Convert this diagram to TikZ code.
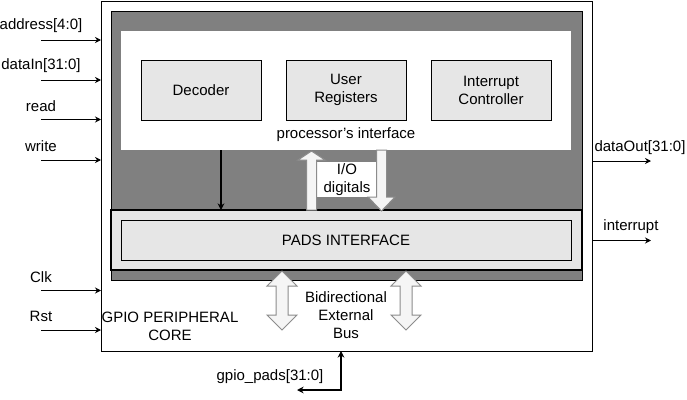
\documentclass[tikz,border=0pt]{standalone}
\usepackage{fontspec}
\setmainfont{Liberation Sans}
\usetikzlibrary{arrows.meta}
\definecolor{darkbg}{HTML}{808080}
\definecolor{boxfill}{HTML}{E6E6E6}
\definecolor{hollowfill}{HTML}{F5F5F5}
\definecolor{hollowline}{HTML}{8C8C8C}
\begin{document}
\begin{tikzpicture}[x=0.75pt,y=-0.75pt,
  every node/.style={font=\fontsize{11.25}{13.5}\selectfont, inner sep=0pt, outer sep=0pt},
  blk/.style={draw=black, line width=0.75pt, rectangle},
  sub/.style={blk, fill=boxfill, minimum width=90pt, minimum height=45pt, align=center},
  sig/.style={-{Stealth[length=4.5pt,width=4.5pt]}, line width=0.75pt},
  hollow/.style={draw=hollowline, fill=hollowfill, line width=0.75pt, line join=miter},
  lbl/.style={align=center}
]
\useasboundingbox (0,0) rectangle (687,400);
% outer core
\node[blk, fill=white, minimum width=368.25pt, minimum height=262.5pt] (core) at (346.5,176) {};
% dark background
\node[blk, fill=darkbg, minimum width=353.25pt, minimum height=201.75pt] (dark) at (346.5,145.5) {};
% processor's interface
\node[draw=none, fill=white, minimum width=337.5pt, minimum height=89.25pt] (proc) at (346,90.5) {};
\node[sub] (dec) at (201,90) {Decoder};
\node[sub] (ureg) at (346,90) {User\\Registers};
\node[sub] (intc) at (491,90) {Interrupt\\Controller};
\node[lbl] (proclbl) at (346,134.5) {processor's interface};
% pads interface
\node[draw=black, line width=1.5pt, fill=boxfill, minimum width=353.25pt, minimum height=45pt] (padsout) at (346.5,240) {};
\node[blk, fill=boxfill, minimum width=337.5pt, minimum height=30pt] (pads) at (346,240) {PADS INTERFACE};
% decoder to pads arrow
\coordinate (decdown) at (221,150);
\draw[-{Stealth[length=5pt,width=5pt]}, line width=1.1pt] (decdown) -- (decdown |- padsout.north);
% I/O digitals
\node[fill=white, minimum width=45pt, minimum height=26.25pt, align=center] (io) at (347,179.5) {I/O\\digitals};
% hollow up arrow
\draw[hollow] (311.5,151) -- (325,160) -- (316.5,160) -- (316.5,210) -- (306.5,210) -- (306.5,160) -- (298,160) -- cycle;
% hollow down arrow
\draw[hollow] (381.5,211) -- (395,197) -- (386.5,197) -- (386.5,150) -- (376.5,150) -- (376.5,197) -- (368,197) -- cycle;
% bidirectional arrows
\foreach \cx in {282,406}{
  \draw[hollow] (\cx,271) -- (\cx+15,286) -- (\cx+6,286) -- (\cx+6,315) -- (\cx+15,315) -- (\cx,330)
     -- (\cx-15,315) -- (\cx-6,315) -- (\cx-6,286) -- (\cx-15,286) -- cycle;
}
\node[lbl] (bus) at (346,315.5) {Bidirectional\\External\\Bus};
\node[lbl] (gpiolbl) at (170,326) {GPIO PERIPHERAL\\CORE};
% inputs
\foreach \nm/\txt/\ly/\ay in {a/address[4:0]/25.5/40, d/dataIn[31:0]/66/80, r/read/106.5/119.5, w/write/146.5/160, c/Clk/277/290.5, s/Rst/316.5/330}{
  \node (in\nm lbl) at (41,\ly) {\txt};
  \coordinate (in\nm) at (41,\ay);
  \draw[sig] (in\nm) -- (in\nm -| core.west);
}
% outputs
\coordinate (outd) at (651,161);
\coordinate (outi) at (651,240.5);
\draw[sig] (outd -| core.east) -- (outd);
\draw[sig] (outi -| core.east) -- (outi);
\node (outdlbl) at (640,148) {dataOut[31:0]};
\node (outilbl) at (631,227) {interrupt};
% gpio pads
\coordinate (gpiocorner) at (341,390);
\coordinate (gpioend) at (297,390);
\draw[{Stealth[length=5pt,width=5pt]}-{Stealth[length=5pt,width=5pt]}, line width=1.1pt] (gpioend) -- (gpiocorner) -- (gpiocorner |- core.south);
\node (gpiopadlbl) at (270,377) {gpio\_pads[31:0]};
\end{tikzpicture}
\end{document}
